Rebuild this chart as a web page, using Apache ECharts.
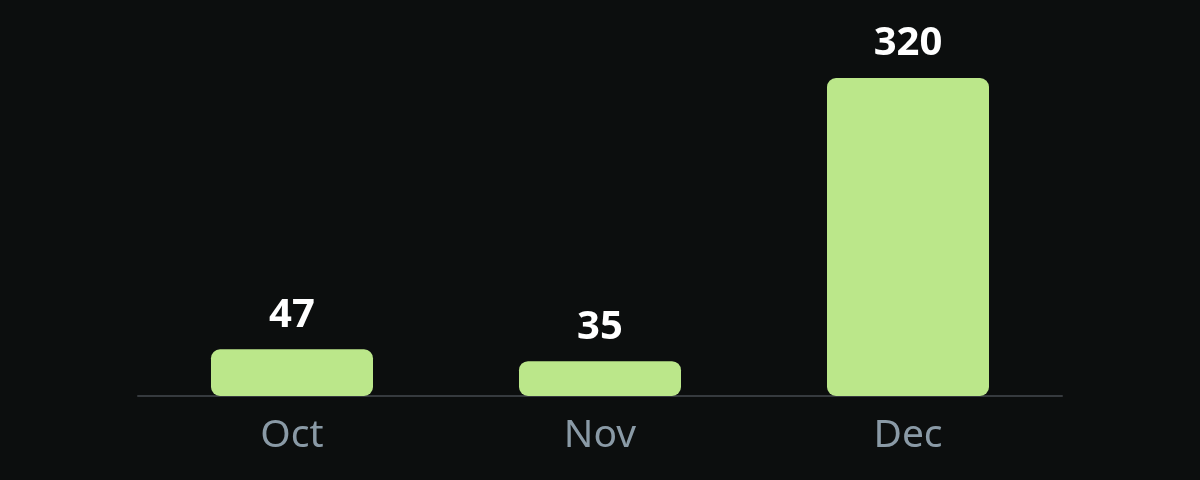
<!DOCTYPE html>
<html>
<head>
<meta charset="utf-8">
<script src="https://cdn.jsdelivr.net/npm/echarts@6/dist/echarts.min.js"></script>
<style>
  html, body { margin: 0; padding: 0; background: #0c0e0e; }
  #chart { width: 1200px; height: 480px; }
</style>
</head>
<body>
<div id="chart"></div>
<script>
// 数据
const months = ['Oct', 'Nov', 'Dec'];
const counts = [47, 35, 320];

const chart = echarts.init(document.getElementById('chart'));
const option = {
    backgroundColor: '#0c0e0e',
    animation: false,
    grid: {
        left: 138,
        right: 138,
        top: 78,
        bottom: 84
    },
    xAxis: {
        type: 'category',
        data: months,
        axisLine: {
            lineStyle: { color: '#363a3e', width: 2 }
        },
        axisTick: { show: false },
        axisLabel: {
            color: '#8a9aa6',
            fontSize: 39,
            fontFamily: 'Noto Sans',
            margin: 20
        }
    },
    yAxis: {
        type: 'value',
        min: 0,
        max: 320,
        show: false,
        splitLine: { show: false }
    },
    series: [
        {
            type: 'bar',
            data: counts,
            barWidth: '52.6%',
            itemStyle: {
                color: '#bbe78a',
                borderRadius: 9
            },
            label: {
                show: true,
                position: 'top',
                distance: 14,
                color: '#ffffff',
                fontSize: 40,
                fontWeight: 'bold',
                fontFamily: 'Noto Sans'
            }
        }
    ]
};
chart.setOption(option);
</script>
</body>
</html>
